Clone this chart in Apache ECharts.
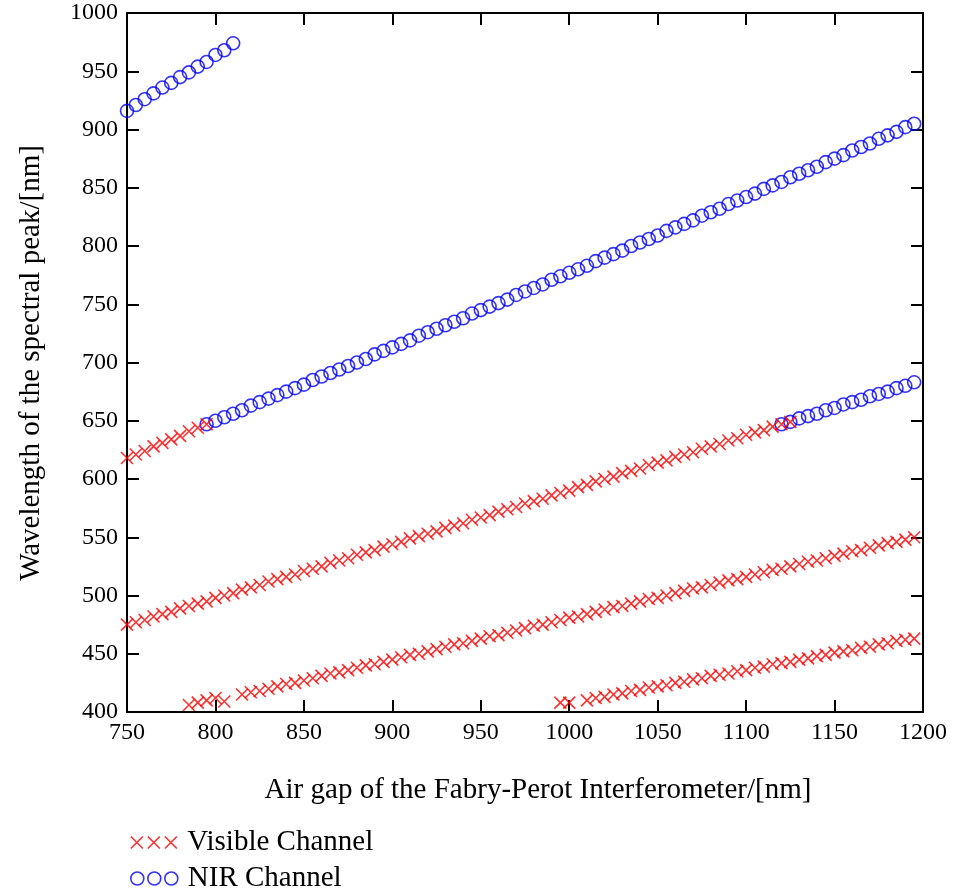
<!DOCTYPE html>
<html>
<head>
<meta charset="utf-8">
<title>Fabry-Perot peak wavelength vs air gap</title>
<script src="https://cdn.jsdelivr.net/npm/echarts@6/dist/echarts.min.js"></script>
<style>
  html, body { margin: 0; padding: 0; background: #ffffff; }
  #chart { width: 955px; height: 891px; }
</style>
</head>
<body>
<div id="chart"></div>
<script>
// Air gap sampling positions (nm)
const airGap = [
  750, 755, 760, 765, 770, 775, 780, 785, 790, 795,
  800, 805, 810, 815, 820, 825, 830, 835, 840, 845,
  850, 855, 860, 865, 870, 875, 880, 885, 890, 895,
  900, 905, 910, 915, 920, 925, 930, 935, 940, 945,
  950, 955, 960, 965, 970, 975, 980, 985, 990, 995,
  1000, 1005, 1010, 1015, 1020, 1025, 1030, 1035, 1040, 1045,
  1050, 1055, 1060, 1065, 1070, 1075, 1080, 1085, 1090, 1095,
  1100, 1105, 1110, 1115, 1120, 1125, 1130, 1135, 1140, 1145,
  1150, 1155, 1160, 1165, 1170, 1175, 1180, 1185, 1190, 1195
];

// Visible channel peaks (nm), one array per interference order; start = first air gap
const visOrder3Start = 750;
const visOrder3 = [618, 621, 624, 628, 631, 634, 637, 641, 644, 647];

const visOrder4Start = 750;
const visOrder4 = [
  475, 477, 479, 482, 484, 486, 489, 491, 493, 495,
  498, 500, 502, 505, 507, 509, 512, 514, 516, 518,
  521, 523, 525, 528, 530, 532, 535, 537, 539, 542,
  544, 546, 549, 551, 553, 555, 558, 560, 562, 565,
  567, 569, 572, 574, 576, 579, 581, 583, 586, 588,
  590, 593, 595, 598, 600, 602, 605, 607, 609, 612,
  614, 616, 619, 621, 623, 626, 628, 630, 633, 635,
  638, 640, 642, 645, 647, 649
];

const visOrder5aStart = 785;
const visOrder5a = [406, 408, 410, 412, 409];

const visOrder5bStart = 815;
const visOrder5b = [
  415, 417, 418, 420, 422, 424, 425, 427, 429, 431,
  433, 434, 436, 438, 440, 441, 443, 445, 447, 449,
  450, 452, 454, 456, 458, 459, 461, 463, 465, 466,
  468, 470, 472, 474, 475, 477, 479, 481, 482, 484,
  486, 488, 490, 491, 493, 495, 497, 498, 500, 502,
  504, 506, 507, 509, 511, 513, 514, 516, 518, 520,
  522, 523, 525, 527, 529, 530, 532, 534, 536, 538,
  539, 541, 543, 545, 546, 548, 550
];

const visOrder6aStart = 995;
const visOrder6a = [408, 408];

const visOrder6bStart = 1010;
const visOrder6b = [
  410, 412, 413, 415, 416, 418, 419, 421, 422, 423,
  425, 426, 428, 429, 431, 432, 433, 435, 436, 438,
  439, 441, 442, 443, 445, 446, 448, 449, 451, 452,
  453, 455, 456, 458, 459, 461, 462, 463
];

// NIR channel peaks (nm)
const nirOrder2Start = 750;
const nirOrder2 = [916, 921, 926, 931, 936, 940, 945, 949, 954, 958, 964, 968, 974];

const nirOrder3Start = 795;
const nirOrder3 = [
  647, 650, 653, 656, 659, 663, 666, 669, 672, 675,
  678, 681, 685, 688, 691, 694, 697, 700, 703, 707,
  710, 713, 716, 719, 723, 726, 729, 732, 735, 738,
  742, 745, 748, 751, 754, 758, 761, 764, 767, 771,
  774, 777, 780, 783, 787, 790, 793, 796, 800, 803,
  806, 809, 813, 816, 819, 822, 826, 829, 832, 836,
  839, 842, 845, 849, 852, 855, 859, 862, 865, 868,
  872, 875, 878, 882, 885, 888, 892, 895, 898, 902,
  905
];

const nirOrder4Start = 1120;
const nirOrder4 = [647, 649, 652, 654, 656, 659, 661, 664, 666, 668, 671, 673, 675, 678, 680, 683];

// Axis ticks
const xTicks = { min: 750, max: 1200, step: 50 };
const yTicks = { min: 400, max: 1000, step: 50 };

const seriesNames = ['Visible Channel', 'NIR Channel'];
const xTitle = 'Air gap of the Fabry-Perot Interferometer/[nm]';
const yTitle = 'Wavelength of the spectral peak/[nm]';

// Pair each peak value with its air gap
function branch(start, values) {
  const i0 = airGap.indexOf(start);
  return values.map((v, k) => [airGap[i0 + k], v]);
}

const visibleData = [].concat(
  branch(visOrder3Start, visOrder3),
  branch(visOrder4Start, visOrder4),
  branch(visOrder5aStart, visOrder5a),
  branch(visOrder5bStart, visOrder5b),
  branch(visOrder6aStart, visOrder6a),
  branch(visOrder6bStart, visOrder6b)
);
const nirData = [].concat(
  branch(nirOrder2Start, nirOrder2),
  branch(nirOrder3Start, nirOrder3),
  branch(nirOrder4Start, nirOrder4)
);

const RED = '#ff0000';
const BLUE = '#0000ff';
const SERIF = '"Liberation Serif", "Times New Roman", Times, serif';

const crossPath = 'path://M0,0L12,12M12,0L0,12';
const crossLegend = 'path://M0,0L12,12M12,0L0,12M17,0L29,12M29,0L17,12M34,0L46,12M46,0L34,12';
const ringLegend = 'path://M0,6.5a6.5,6.5 0 1,0 13,0a6.5,6.5 0 1,0 -13,0' +
  'M17,6.5a6.5,6.5 0 1,0 13,0a6.5,6.5 0 1,0 -13,0' +
  'M34,6.5a6.5,6.5 0 1,0 13,0a6.5,6.5 0 1,0 -13,0';

const frameLine = { show: true, onZero: false, lineStyle: { color: '#000', width: 2 } };
const innerTick = { show: true, inside: true, length: 12, lineStyle: { color: '#000', width: 2 } };
const plainNumber = v => String(v);
const tickFont = { fontFamily: SERIF, fontSize: 24, color: '#000', formatter: plainNumber };

const legendText = { fontFamily: SERIF, fontSize: 29, color: '#000', padding: [0, 0, 0, 5] };

const chart = echarts.init(document.getElementById('chart'), null, { renderer: 'canvas' });

chart.setOption({
  animation: false,
  backgroundColor: '#ffffff',
  grid: { left: 127, top: 13, width: 796, height: 699, containLabel: false },
  xAxis: [
    {
      type: 'value', position: 'bottom',
      min: xTicks.min, max: xTicks.max, interval: xTicks.step,
      axisLine: frameLine, axisTick: innerTick,
      axisLabel: Object.assign({ margin: 9 }, tickFont),
      splitLine: { show: false }
    },
    {
      type: 'value', position: 'top',
      min: xTicks.min, max: xTicks.max, interval: xTicks.step,
      axisLine: frameLine, axisTick: innerTick,
      axisLabel: { show: false }, splitLine: { show: false }
    }
  ],
  yAxis: [
    {
      type: 'value', position: 'left',
      min: yTicks.min, max: yTicks.max, interval: yTicks.step,
      axisLine: frameLine, axisTick: innerTick,
      axisLabel: Object.assign({ margin: 9 }, tickFont),
      splitLine: { show: false }
    },
    {
      type: 'value', position: 'right',
      min: yTicks.min, max: yTicks.max, interval: yTicks.step,
      axisLine: frameLine, axisTick: innerTick,
      axisLabel: { show: false }, splitLine: { show: false }
    }
  ],
  legend: [
    {
      left: 130, top: 828, padding: 0,
      itemWidth: 47, itemHeight: 12,
      textStyle: legendText,
      data: [{ name: seriesNames[0], icon: crossLegend,
               itemStyle: { color: 'rgba(0,0,0,0)', borderColor: RED, borderWidth: 1.6 } }]
    },
    {
      left: 130, top: 864, padding: 0,
      itemWidth: 47, itemHeight: 13,
      textStyle: legendText,
      data: [{ name: seriesNames[1], icon: ringLegend,
               itemStyle: { color: 'rgba(0,0,0,0)', borderColor: BLUE, borderWidth: 1.6 } }]
    }
  ],
  series: [
    {
      name: seriesNames[1], type: 'scatter', xAxisIndex: 0, yAxisIndex: 0,
      symbol: 'circle', symbolSize: 13,
      itemStyle: { color: 'rgba(0,0,0,0)', borderColor: BLUE, borderWidth: 1.6 },
      data: nirData
    },
    {
      name: seriesNames[0], type: 'scatter', xAxisIndex: 0, yAxisIndex: 0,
      symbol: crossPath, symbolSize: 12,
      itemStyle: { color: 'rgba(0,0,0,0)', borderColor: RED, borderWidth: 1.6 },
      data: visibleData
    }
  ],
  graphic: [
    {
      type: 'text', x: 538, y: 790,
      style: { text: xTitle, fontFamily: SERIF, fontSize: 29, fill: '#000',
               align: 'center', verticalAlign: 'middle' }
    },
    {
      type: 'text', x: 31, y: 363, rotation: Math.PI / 2,
      style: { text: yTitle, fontFamily: SERIF, fontSize: 29, fill: '#000',
               align: 'center', verticalAlign: 'middle' }
    }
  ]
});
</script>
</body>
</html>
